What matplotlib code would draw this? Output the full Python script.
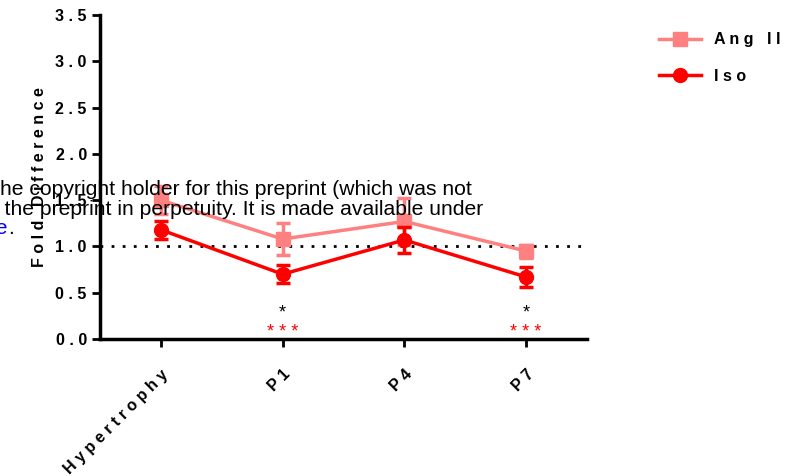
import matplotlib.pyplot as plt

plt.rcParams['font.family'] = ['Liberation Sans', 'DejaVu Sans']

# data
categories = ['Hypertrophy', 'P1', 'P4', 'P7']
ang_mean = [1.50, 1.08, 1.27, 0.95]
ang_err = [0.15, 0.17, 0.25, 0.07]
iso_mean = [1.18, 0.70, 1.07, 0.67]
iso_err = [0.10, 0.10, 0.14, 0.11]
sig_black = ['', '*', '', '*']
sig_red = ['', '***', '', '***']


def spaced(s, gap=' '):
    # letter spaced text like the original
    return gap.join(s)


fig = plt.figure(figsize=(8.02, 4.76), dpi=100)
ax = fig.add_axes([100 / 802, 1 - 339 / 476, 487 / 802, 324 / 476])

x = list(range(len(categories)))

ax.axhline(1.0, color='black', lw=2, linestyle=(0, (1, 3)), zorder=1)

ang = ax.errorbar(x, ang_mean, yerr=ang_err, color='#FF8080', marker='s', markersize=10,
                  lw=2.5, capsize=5, capthick=2.5, elinewidth=2.5, zorder=3)
iso = ax.errorbar(x, iso_mean, yerr=iso_err, color='#FF0000', marker='o', markersize=10,
                  lw=2.5, capsize=5, capthick=2.5, elinewidth=2.5, zorder=4)

for i in x:
    if sig_black[i]:
        ax.text(i, 0.185, sig_black[i], ha='center', va='bottom', fontsize=13, color='black')
    if sig_red[i]:
        ax.text(i, -0.025, spaced(sig_red[i]), ha='center', va='bottom', fontsize=13, color='#FF0000')

ax.set_xlim(-0.5, 3.5)
ax.set_ylim(0, 3.5)
ax.set_yticks([0, 0.5, 1.0, 1.5, 2.0, 2.5, 3.0, 3.5])
ax.set_yticklabels([spaced(f'{v:.1f}') for v in ax.get_yticks()], fontsize=11.5, fontweight='bold')
ax.set_xticks(x)
ax.set_xticklabels([spaced(c) for c in categories], fontsize=11.5, fontweight='bold',
                   rotation=45, ha='right', rotation_mode='anchor')
ax.set_ylabel(spaced('Fold') + '   ' + spaced('Difference'), fontsize=11.5, fontweight='bold', labelpad=6)

for side in ['top', 'right']:
    ax.spines[side].set_visible(False)
for side in ['left', 'bottom']:
    ax.spines[side].set_linewidth(2.5)
ax.tick_params(width=2, length=6, direction='out')
ax.tick_params(axis='x', pad=14)

# legend shows only line + marker, no error bars
fig.legend([ang[0], iso[0]], [spaced('Ang II'), spaced('Iso')],
           loc='upper left', bbox_to_anchor=(645 / 802, 1 - 18 / 476), frameon=False,
           prop={'weight': 'bold', 'size': 11.5}, handlelength=2.6, labelspacing=1.35)

# bioRxiv watermark text that overlaps the chart
fig.text(472 / 802, 1 - 195 / 476, 'The copyright holder for this preprint (which was not',
         ha='right', va='baseline', fontsize=15.2, color='black')
fig.text(483 / 802, 1 - 215 / 476, 'display the preprint in perpetuity. It is made available under',
         ha='right', va='baseline', fontsize=15.2, color='black')
fig.text(8 / 802, 1 - 234 / 476, 'license', ha='right', va='baseline', fontsize=15.2, color='blue')
fig.text(8 / 802, 1 - 234 / 476, '.', ha='left', va='baseline', fontsize=15.2, color='black')

fig.savefig('out.png', dpi=100)
